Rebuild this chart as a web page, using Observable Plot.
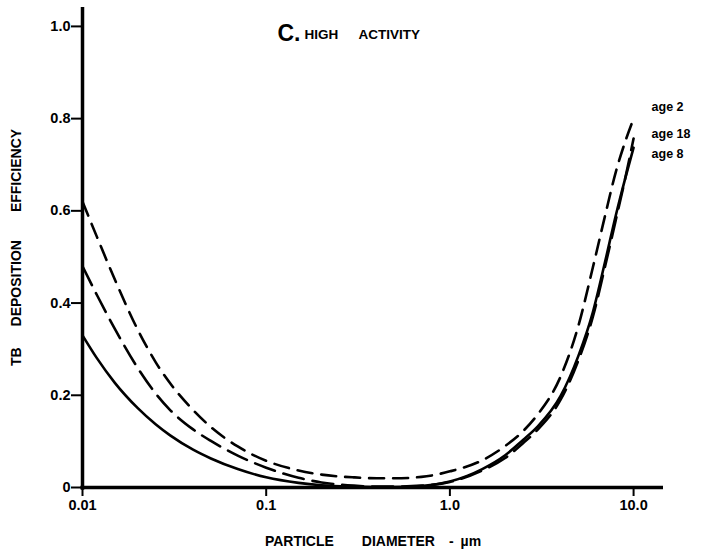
<!DOCTYPE html>
<html><head><meta charset="utf-8">
<script src="https://cdn.jsdelivr.net/npm/d3@7"></script>
<script src="https://cdn.jsdelivr.net/npm/@observablehq/plot@0.6"></script>
<style>
body{margin:0;background:#fff;}
svg{font-family:"Liberation Sans",Arial,Helvetica,sans-serif;}
</style></head><body><div id="chart"></div>
<script>
// Particle diameter (µm)
const diameters = [0.01,0.012,0.015,0.02,0.025,0.03,0.04,0.05,0.07,0.1,0.15,0.2,0.3,0.4,0.5,0.7,1.0,1.5,2,2.5,3,4,5,6,7,8,9,10];
// TB deposition efficiency
const age2  = [0.62,0.543,0.451,0.342,0.272,0.226,0.168,0.131,0.089,0.058,0.037,0.028,0.022,0.020,0.020,0.023,0.035,0.059,0.090,0.122,0.158,0.24,0.35,0.477,0.59,0.684,0.75,0.80];
const age18 = [0.48,0.417,0.344,0.259,0.204,0.168,0.126,0.101,0.069,0.043,0.021,0.011,0.004,0.002,0.002,0.004,0.012,0.037,0.064,0.096,0.125,0.19,0.275,0.37,0.48,0.58,0.67,0.757];
const age8  = [0.33,0.28,0.227,0.172,0.137,0.113,0.082,0.063,0.040,0.022,0.010,0.005,0.002,0.001,0.001,0.003,0.013,0.040,0.070,0.103,0.132,0.198,0.285,0.38,0.49,0.59,0.67,0.737];
const seriesNames = ["age 2","age 18","age 8"];
const xTicks = [0.01,0.1,1,10];
const xTickLabels = ["0.01","0.1","1.0","10.0"];
const yTicks = [0,0.2,0.4,0.6,0.8,1.0];
const yTickLabels = ["0","0.2","0.4","0.6","0.8","1.0"];
const xTitle = "PARTICLE\u2003\u2003DIAMETER\u2003-\u2002µm";
const yTitle = "TB\u2003\u2002DEPOSITION\u2003\u2002\u2002EFFICIENCY";

const rows = s => diameters.map((d,i)=>({d, v:s[i]}));
const last = diameters.length - 1;
const endLabel = (s, name, dy) => Plot.text([{d: diameters[last], v: s[last], name}],
  {x: "d", y: "v", text: "name", dx: 18, dy, textAnchor: "start", lineAnchor: "middle", fontSize: 12.5, fontWeight: "bold"});

const chart = Plot.plot({
  width: 701, height: 552,
  marginLeft: 82, marginRight: 38, marginTop: 7, marginBottom: 65,
  style: {fontSize: "14px", fontWeight: "bold", color: "#000", background: "#fff", fontFamily: "Liberation Sans, Arial, sans-serif"},
  x: {type: "log", domain: [0.01, 14.55]},
  y: {domain: [0, 1.041]},
  marks: [
    Plot.axisX(xTicks, {tickFormat: d => xTickLabels[xTicks.indexOf(d)], tickSize: 9, tickPadding: 3, strokeWidth: 2, label: null, fontSize: 14.5}),
    Plot.axisY(yTicks, {tickFormat: d => yTickLabels[yTicks.indexOf(d)], tickSize: 11, tickPadding: 1, strokeWidth: 2, label: null, fontSize: 14.5}),
    Plot.ruleY([0], {x1: 0.0098, x2: 14.55, strokeWidth: 3.5}),
    Plot.ruleX([0.01], {y1: -0.006, y2: 1.041, strokeWidth: 3.5}),
    Plot.line(rows(age8), {x: "d", y: "v", curve: "monotone-x", strokeWidth: 2.6}),
    Plot.line(rows(age18), {x: "d", y: "v", curve: "monotone-x", strokeWidth: 2.6, strokeDasharray: "21,9"}),
    Plot.line(rows(age2), {x: "d", y: "v", curve: "monotone-x", strokeWidth: 2.6, strokeDasharray: "15,9"}),
    endLabel(age2, seriesNames[0], -12),
    endLabel(age18, seriesNames[1], -4),
    endLabel(age8, seriesNames[2], 6),
    Plot.text(["C."], {frameAnchor: "top-left", dx: 195, dy: 26, textAnchor: "start", lineAnchor: "middle", fontSize: 23, fontWeight: "bold"}),
    Plot.text(["HIGH\u2003\u2002ACTIVITY"], {frameAnchor: "top-left", dx: 222, dy: 27, textAnchor: "start", lineAnchor: "middle", fontSize: 13.5, fontWeight: "bold"}),
    Plot.text([xTitle], {frameAnchor: "bottom", dy: 54, textAnchor: "middle", lineAnchor: "middle", fontSize: 14, fontWeight: "bold"}),
    Plot.text([yTitle], {frameAnchor: "left", dx: -66, rotate: -90, textAnchor: "middle", lineAnchor: "middle", fontSize: 14, fontWeight: "bold"})
  ]
});
document.getElementById("chart").appendChild(chart);
</script></body></html>
